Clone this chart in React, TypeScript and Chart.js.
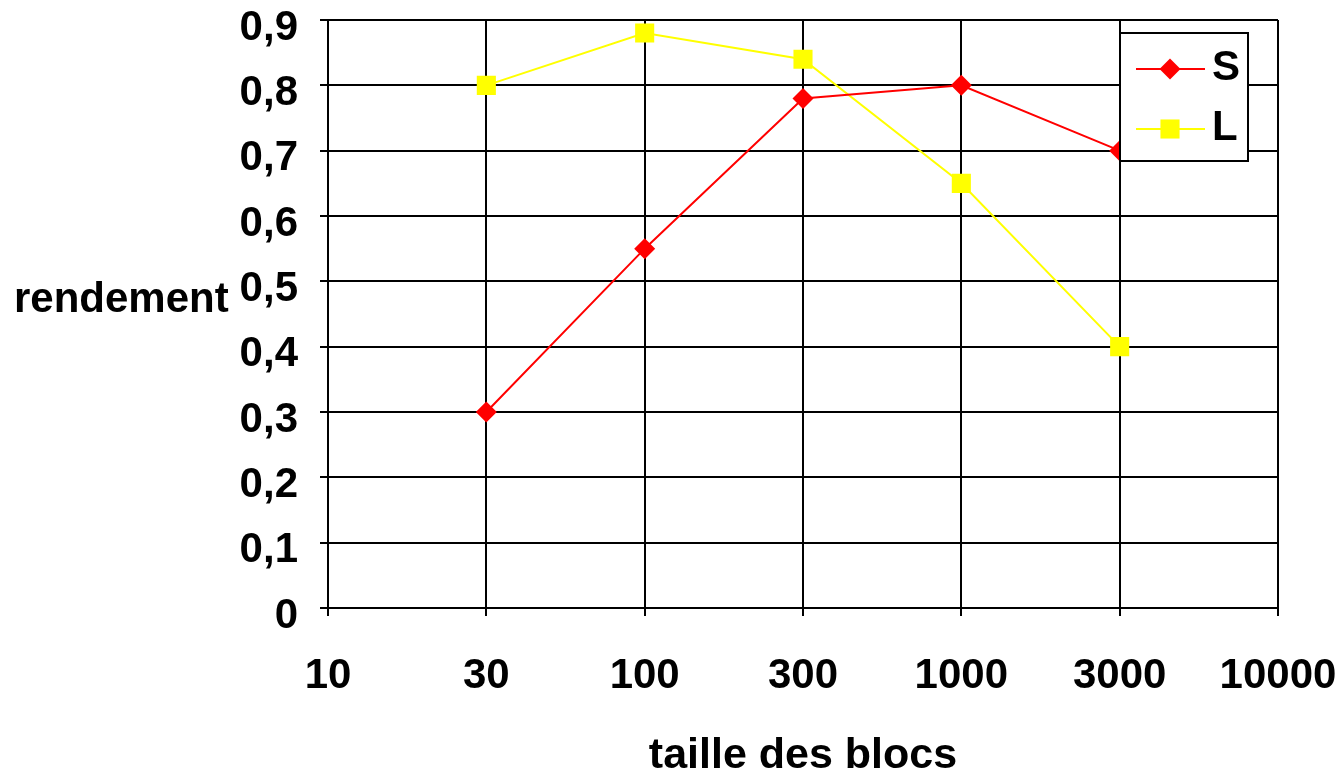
import React, { useEffect, useRef } from "react";
import { Chart, registerables } from "chart.js";

Chart.register(...registerables);

const categories = ["10", "30", "100", "300", "1000", "3000", "10000"];
const seriesS = [null, 0.3, 0.55, 0.78, 0.8, 0.7, null];
const seriesL = [null, 0.8, 0.88, 0.84, 0.65, 0.4, null];
const yTicks = [0, 0.1, 0.2, 0.3, 0.4, 0.5, 0.6, 0.7, 0.8, 0.9];

const FONT = '"Liberation Sans", Arial, sans-serif';

const textPlugin = {
  id: "extraText",
  afterDraw(chart: any) {
    const ctx = chart.ctx;
    const ca = chart.chartArea;
    ctx.save();
    ctx.fillStyle = "#000";
    ctx.font = `bold 42px ${FONT}`;
    ctx.textBaseline = "alphabetic";
    ctx.textAlign = "left";
    ctx.fillText("rendement", 14, 312);
    ctx.font = `bold 43px ${FONT}`;
    ctx.textAlign = "center";
    ctx.fillText("taille des blocs", (ca.left + ca.right) / 2, 768);

    // legend
    const bx = ca.right - 158;
    const by = 33;
    const bw = 128;
    const bh = 128;
    ctx.fillStyle = "#fff";
    ctx.fillRect(bx, by, bw, bh);
    ctx.strokeStyle = "#000";
    ctx.lineWidth = 2;
    ctx.strokeRect(bx, by, bw, bh);
    const items = chart.data.datasets;
    items.forEach((ds: any, i: number) => {
      const cy = by + 36 + i * 60;
      ctx.strokeStyle = ds.borderColor;
      ctx.lineWidth = 2;
      ctx.beginPath();
      ctx.moveTo(bx + 16, cy);
      ctx.lineTo(bx + 85, cy);
      ctx.stroke();
      const cx = bx + 50;
      ctx.fillStyle = ds.backgroundColor;
      ctx.beginPath();
      if (ds.pointStyle === "rectRot") {
        const r = ds.pointRadius;
        ctx.moveTo(cx - r, cy);
        ctx.lineTo(cx, cy - r);
        ctx.lineTo(cx + r, cy);
        ctx.lineTo(cx, cy + r);
        ctx.closePath();
      } else {
        const s = ds.pointRadius * Math.SQRT1_2;
        ctx.rect(cx - s, cy - s, 2 * s, 2 * s);
      }
      ctx.fill();
      ctx.fillStyle = "#000";
      ctx.font = `bold 42px ${FONT}`;
      ctx.textAlign = "left";
      ctx.textBaseline = "middle";
      ctx.fillText(ds.label, bx + 92, cy - 1);
    });
    ctx.restore();
  },
};

export default function App() {
  const ref = useRef<HTMLCanvasElement | null>(null);
  useEffect(() => {
    document.body.style.margin = "0";
    const canvas = ref.current!;
    const chart = new Chart(canvas, {
      type: "line",
      data: {
        labels: categories,
        datasets: [
          {
            label: "S",
            data: seriesS,
            borderColor: "#ff0000",
            backgroundColor: "#ff0000",
            borderWidth: 2,
            pointStyle: "rectRot",
            pointRadius: 10.5,
            pointBorderWidth: 0,
            tension: 0,
          },
          {
            label: "L",
            data: seriesL,
            borderColor: "#ffff00",
            backgroundColor: "#ffff00",
            borderWidth: 2,
            pointStyle: "rect",
            pointRadius: 13.5,
            pointBorderWidth: 0,
            tension: 0,
          },
        ],
      },
      options: {
        responsive: false,
        animation: false,
        layout: { padding: { top: 20, right: 65, bottom: 0, left: 0 } },
        plugins: {
          legend: { display: false },
          tooltip: { enabled: false },
        },
        scales: {
          x: {
            type: "category",
            offset: false,
            grid: { color: "#000", lineWidth: 2, tickLength: 8, offset: false },
            border: { color: "#000", width: 2 },
            ticks: {
              color: "#000",
              font: { family: FONT, size: 42, weight: "bold" },
              padding: 35,
              maxRotation: 0,
              autoSkip: false,
            },
            afterFit(scale: any) {
              scale.height = 171;
              scale.paddingLeft = 0;
              scale.paddingRight = 0;
            },
          },
          y: {
            min: 0,
            max: 0.9,
            afterBuildTicks(scale: any) {
              scale.ticks = yTicks.map((v) => ({ value: v }));
            },
            grid: { color: "#000", lineWidth: 2, tickLength: 8 },
            border: { color: "#000", width: 2 },
            ticks: {
              color: "#000",
              font: { family: FONT, size: 42, weight: "bold" },
              padding: 22,
              labelOffset: 8,
              callback: (v: any) => {
                const n = Number(v);
                return n === 0 ? "0" : n.toFixed(1).replace(".", ",");
              },
            },
            afterFit(scale: any) {
              scale.width = 328;
              scale.paddingTop = 0;
              scale.paddingBottom = 0;
            },
          },
        },
      },
      plugins: [textPlugin],
    } as any);
    return () => chart.destroy();
  }, []);
  return <canvas ref={ref} width={1343} height={779} style={{ display: "block" }} />;
}
